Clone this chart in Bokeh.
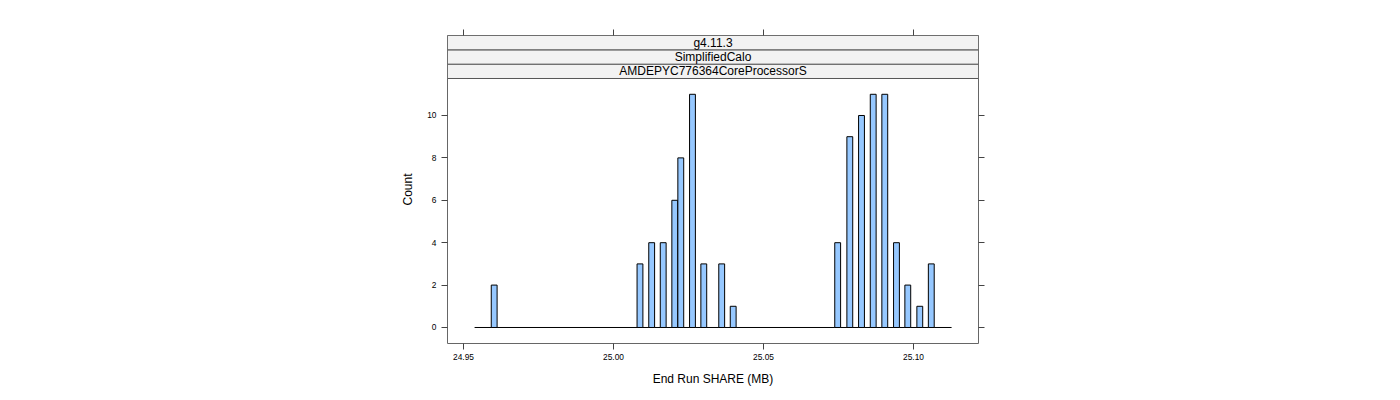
from bokeh.plotting import figure
from bokeh.models import Range1d, LinearAxis, FixedTicker, ColumnDataSource
from bokeh.core.properties import value
from bokeh.embed import file_html
from bokeh.resources import INLINE

# Data
bin_centers = [24.96023, 25.00883, 25.01273, 25.01657, 25.02043, 25.02243, 25.02633,
               25.0301, 25.03607, 25.0399,
               25.07473, 25.07877, 25.08267, 25.08657, 25.09043, 25.09433, 25.0981,
               25.1021, 25.10593]
counts = [2, 3, 4, 4, 6, 8, 11, 3, 3, 1,
          4, 9, 10, 11, 11, 4, 2, 1, 3]
hist_range = [24.9537, 25.1127]
bin_width = 0.00195
x_ticks = [24.95, 25.00, 25.05, 25.10]
y_ticks = [0, 2, 4, 6, 8, 10]
strip_labels = ["AMDEPYC776364CoreProcessorS", "SimplifiedCalo", "g4.11.3"]
x_title = "End Run SHARE (MB)"
y_title = "Count"

FONT = "Liberation Sans"
X0, X1 = 24.94467, 25.12167
PANEL_BOTTOM, PANEL_TOP = -0.755, 11.745
TOTAL_TOP = 13.773
strip_h = (TOTAL_TOP - PANEL_TOP) / 3.0

p = figure(width=1400, height=400, output_backend="svg", toolbar_location=None,
           x_range=Range1d(X0, X1), y_range=Range1d(PANEL_BOTTOM, TOTAL_TOP),
           min_border_left=447, min_border_right=422, min_border_top=35,
           min_border_bottom=57, x_axis_location=None, y_axis_location=None)
p.grid.visible = False
p.background_fill_color = "white"
p.border_fill_color = "white"
p.outline_line_color = "#666666"
p.outline_line_width = 1

def style_axis(ax, ticks, labels=True):
    ax.ticker = FixedTicker(ticks=ticks)
    ax.axis_line_color = None
    ax.major_tick_out = 6
    ax.major_tick_in = 0
    ax.minor_tick_line_color = None
    ax.major_tick_line_color = "#444444"
    ax.major_label_text_font = FONT
    ax.major_label_text_font_size = "8.4px"
    ax.major_label_text_color = "black" if labels else None
    ax.axis_label_text_font = FONT
    ax.axis_label_text_font_size = "12px"
    ax.axis_label_text_font_style = "normal"
    ax.axis_label_text_color = "black"

left = LinearAxis(axis_label=y_title)
style_axis(left, y_ticks)
left.major_label_standoff = 5
left.axis_label_standoff = 9
left.major_label_orientation = "horizontal"
p.add_layout(left, "left")

right = LinearAxis()
style_axis(right, y_ticks, labels=False)
p.add_layout(right, "right")

bottom = LinearAxis(axis_label=x_title)
style_axis(bottom, x_ticks)
bottom.major_label_overrides = {t: f"{t:.2f}" for t in x_ticks}
bottom.major_label_standoff = 4
bottom.axis_label_standoff = 9
p.add_layout(bottom, "below")

top = LinearAxis()
style_axis(top, x_ticks, labels=False)
p.add_layout(top, "above")

# strips
sb = [PANEL_TOP + i * strip_h for i in range(3)]
st = [PANEL_TOP + (i + 1) * strip_h for i in range(3)]
strips = ColumnDataSource(dict(left=[X0] * 3, right=[X1] * 3, bottom=sb, top=st,
                               label=strip_labels, xm=[(X0 + X1) / 2] * 3,
                               ym=[(b + t) / 2 for b, t in zip(sb, st)]))
p.quad(left="left", right="right", bottom="bottom", top="top", source=strips,
       fill_color="#F2F2F2", line_color="#555555", line_width=1)
p.text(x="xm", y="ym", text="label", source=strips, text_align="center",
       text_baseline="middle", text_font=value(FONT), text_font_size="12px",
       text_color="black")

# histogram
p.segment(x0=[hist_range[0]], y0=[0], x1=[hist_range[1]], y1=[0],
          line_color="black", line_width=1)
src = ColumnDataSource(dict(x=bin_centers, top=counts))
p.vbar(x="x", top="top", bottom=0, width=bin_width, source=src,
       fill_color="#96C8FF", line_color="black", line_width=1)

open("out.html", "w").write(file_html(p, INLINE))
